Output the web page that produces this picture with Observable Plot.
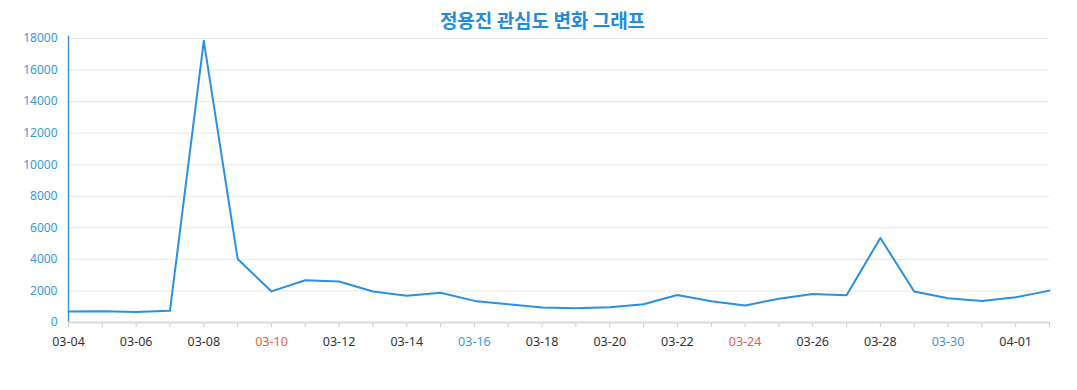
<!DOCTYPE html>
<html><head><meta charset="utf-8">
<script src="https://cdn.jsdelivr.net/npm/d3@7"></script>
<script src="https://cdn.jsdelivr.net/npm/@observablehq/plot@0.6"></script>
<style>
body{margin:0;background:#fff;font-family:"Noto Sans","Noto Sans CJK KR",sans-serif;}
#title{margin-top:8px;padding-left:8px;height:22px;line-height:24px;text-align:center;font-size:19px;font-weight:bold;color:#1f8ce0;font-family:"Noto Sans CJK KR","Noto Sans",sans-serif;}
</style></head>
<body>
<div id="title">정용진 관심도 변화 그래프</div>
<div id="chart"></div>
<script>
const dates = ["03-04","03-05","03-06","03-07","03-08","03-09","03-10","03-11","03-12","03-13","03-14","03-15","03-16","03-17","03-18","03-19","03-20","03-21","03-22","03-23","03-24","03-25","03-26","03-27","03-28","03-29","03-30","03-31","04-01","04-02"];
const values = [700,720,660,745,17850,4030,1970,2680,2600,1970,1700,1880,1370,1150,950,910,970,1160,1740,1340,1080,1510,1800,1720,5360,1960,1540,1370,1600,2020];
const labelDates = ["03-04","03-06","03-08","03-10","03-12","03-14","03-16","03-18","03-20","03-22","03-24","03-26","03-28","03-30","04-01"];
const redLabels = ["03-10","03-24"];
const blueLabels = ["03-16","03-30"];
const yTicks = [0,2000,4000,6000,8000,10000,12000,14000,16000,18000];

const data = dates.map((d,i)=>({date:d, value:values[i]}));
const labelColor = d => redLabels.includes(d) ? "#e0613f" : blueLabels.includes(d) ? "#3a9ad6" : "#333";

const chart = Plot.plot({
  width:1077, height:360,
  marginTop:8, marginLeft:68, marginRight:28, marginBottom:68,
  style:{fontFamily:'"Noto Sans","Noto Sans CJK KR",sans-serif', fontSize:"12px", background:"#fff", overflow:"visible"},
  x:{type:"point", domain:dates, padding:0, round:false},
  y:{type:"linear", domain:[0,18000]},
  color:{type:"identity"},
  marks:[
    Plot.gridY(yTicks, {stroke:"#e8e8e8", strokeOpacity:1}),
    Plot.axisY(yTicks, {tickSize:0, tickPadding:11, tickFormat:d3.format("d"), fill:"#3a98d8", fontSize:12, label:null}),
    Plot.ruleX([dates[0]], {y1:0, y2:18150, stroke:"#3a98d8", strokeWidth:1.5}),
    Plot.axisX(dates, {tickSize:5, stroke:"#cccccc", tickPadding:10, tickFormat:d => labelDates.includes(d) ? d : "", fill:labelColor, fontSize:12.5, label:null}),
    Plot.ruleY([0], {stroke:"#d9d9d9", strokeWidth:2}),
    Plot.line(data, {x:"date", y:"value", stroke:"#2a90e2", strokeWidth:2})
  ]
});
document.getElementById("chart").appendChild(chart);
</script>
</body></html>
